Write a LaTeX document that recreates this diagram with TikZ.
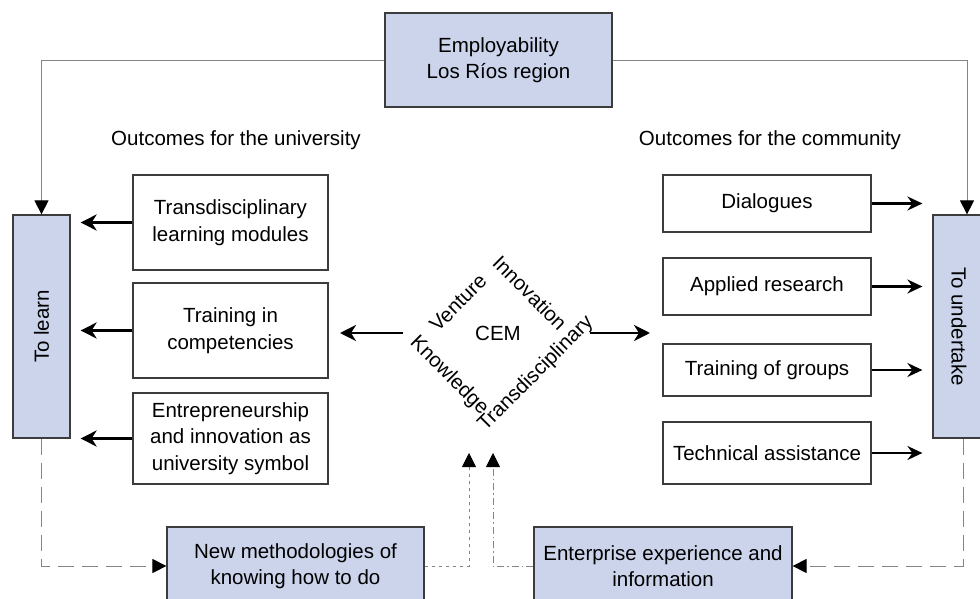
\documentclass[tikz,border=0pt]{standalone}
\usepackage{fontspec}
\setmainfont{Liberation Sans}
\usetikzlibrary{arrows.meta}
\definecolor{boxblue}{HTML}{CCD4EB}
\definecolor{edgegray}{HTML}{3C3C3C}
\definecolor{conn}{HTML}{858585}
\begin{document}
\begin{tikzpicture}[x=1pt,y=-1pt,
  font=\fontsize{20.5}{26.5}\selectfont,
  bluebox/.style={draw=edgegray,line width=1.2pt,fill=boxblue,align=center,inner sep=0pt},
  whitebox/.style={draw=edgegray,line width=1.2pt,fill=white,align=center,inner sep=0pt},
  thinline/.style={draw=conn,line width=0.9pt},
  bigarrow/.style={line width=2.8pt,shorten >=10pt,-{Stealth[length=16pt,width=16pt,inset=5pt]}},
  midarrow/.style={line width=2.2pt,shorten >=10pt,-{Stealth[length=15pt,width=14pt,inset=5pt]}},
  tri/.style={-{Triangle[length=14pt,width=14pt,color=black]}},
  lbl/.style={inner sep=0pt},
]
\clip (0,0) rectangle (980,599);
\fill[white] (0,0) rectangle (980,599);

% top box
\node[bluebox,minimum width=227pt,minimum height=94pt] (emp) at (498.5,60) {Employability\\Los Ríos region};

% headings
\node[lbl] (outU) at (236,140) {Outcomes for the university};
\node[lbl] (outC) at (770,140) {Outcomes for the community};

% side boxes
\node[bluebox,minimum width=57pt,minimum height=223pt] (learn) at (41.5,326.5) {\rotatebox{90}{To learn}};
\node[bluebox,minimum width=52pt,minimum height=223pt] (under) at (959,326.5) {\rotatebox{-90}{To undertake}};

% left outcome boxes
\node[whitebox,minimum width=195pt,minimum height=95pt] (l1) at (230.5,222.5) {Transdisciplinary\\learning modules};
\node[whitebox,minimum width=195pt,minimum height=95pt] (l2) at (230.5,330.5) {Training in\\competencies};
\node[whitebox,minimum width=195pt,minimum height=91pt] (l3) at (230.5,438.5) {Entrepreneurship\\and innovation as\\university symbol};

% right outcome boxes
\node[whitebox,minimum width=208pt,minimum height=57pt] (r1) at (767,203.5) {Dialogues};
\node[whitebox,minimum width=208pt,minimum height=57pt] (r2) at (767,286.5) {Applied research};
\node[whitebox,minimum width=208pt,minimum height=52pt] (r3) at (767,370) {Training of groups};
\node[whitebox,minimum width=208pt,minimum height=62pt] (r4) at (767,453) {Technical assistance};

% centre diamond words
\node[lbl] (cem) at (498,333) {CEM};
\node[lbl,rotate=45] (venture) at (458,303) {Venture};
\node[lbl,rotate=-45] (innov) at (530,293) {Innovation};
\node[lbl,rotate=-45] (knowl) at (449,376) {Knowledge};
\node[lbl,rotate=45] (transd) at (536,374) {Transdisciplinary};

% bottom boxes
\node[bluebox,minimum width=257pt,minimum height=78pt] (nm) at (295.5,566) {New methodologies of\\knowing how to do};
\node[bluebox,minimum width=258pt,minimum height=78pt] (ee) at (663,566) {Enterprise experience and\\information};

% coordinates for free ends
\coordinate (dlS) at (403,333);
\coordinate (dlE) at (340,333);
\coordinate (drS) at (590,333);
\coordinate (drE) at (650,333);
\coordinate (tip1) at (469,453);
\coordinate (tip2) at (493,453);

% top connectors
\draw[thinline,tri] (emp.west) -| (learn.north);
\draw[thinline,tri] (emp.east) -| ([xshift=8pt]under.north);

% left arrows
\draw[bigarrow] (l1.west) -- (learn.east |- l1.west);
\draw[bigarrow] (l2.west) -- (learn.east |- l2.west);
\draw[bigarrow] (l3.west) -- (learn.east |- l3.west);

% right arrows
\draw[midarrow] (r1.east) -- (under.west |- r1.east);
\draw[midarrow] (r2.east) -- (under.west |- r2.east);
\draw[midarrow] (r3.east) -- (under.west |- r3.east);
\draw[midarrow] (r4.east) -- (under.west |- r4.east);

% diamond arrows
\draw[line width=2.8pt,-{Stealth[length=16pt,width=16pt,inset=5pt]}] (dlS) -- (dlE);
\draw[line width=2.8pt,-{Stealth[length=16pt,width=16pt,inset=5pt]}] (drS) -- (drE);

% bottom feedback lines
\draw[thinline,dash pattern=on 16pt off 8pt,tri] (learn.south) |- (nm.west);
\draw[thinline,dash pattern=on 16pt off 8pt,tri] ([xshift=4pt]under.south) |- (ee.east);
\draw[thinline,dash pattern=on 3pt off 4pt,tri] (nm.east) -| (tip1);
\draw[thinline,dash pattern=on 7pt off 3pt on 1.5pt off 3pt,tri] (ee.west) -| (tip2);
\end{tikzpicture}
\end{document}
